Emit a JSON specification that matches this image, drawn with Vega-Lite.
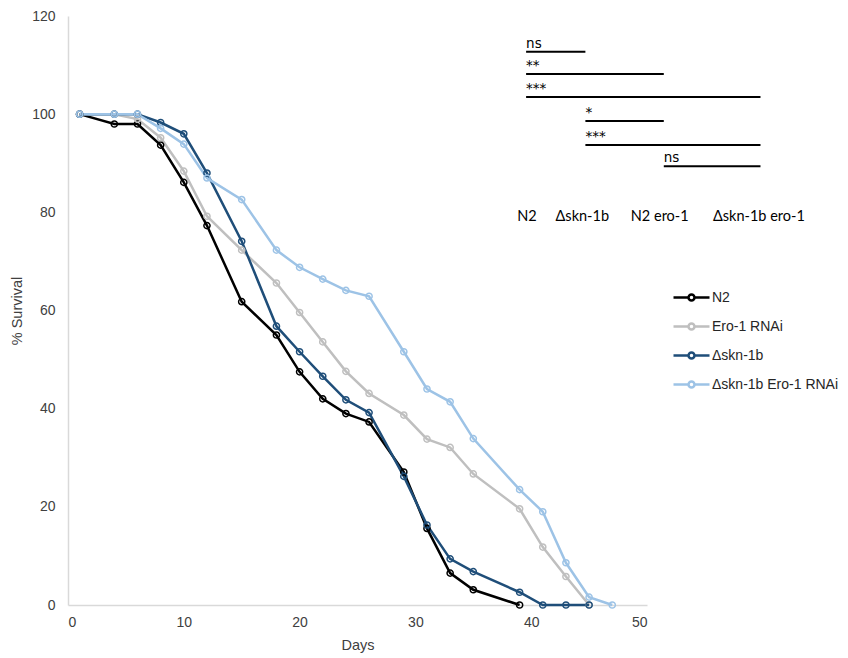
{
  "$schema": "https://vega.github.io/schema/vega-lite/v6.json",
  "width": 579,
  "height": 589,
  "autosize": {"type": "none"},
  "padding": {"left": 68, "top": 16, "right": 201, "bottom": 53},
  "config": {
    "view": {"stroke": null},
    "font": "Liberation Sans",
    "axis": {
      "grid": false,
      "ticks": false,
      "domainColor": "#d9d9d9",
      "domainWidth": 1.5,
      "labelFont": "Liberation Sans",
      "labelFontSize": 14,
      "labelColor": "#404040",
      "titleFont": "Liberation Sans",
      "titleFontSize": 14.5,
      "titleFontWeight": "normal",
      "titleColor": "#404040"
    }
  },
  "datasets": {
    "surv": [
      {"day": 1, "survival": 100, "strain": "N2"},
      {"day": 4, "survival": 98, "strain": "N2"},
      {"day": 6, "survival": 98, "strain": "N2"},
      {"day": 8, "survival": 93.7, "strain": "N2"},
      {"day": 10, "survival": 86.1, "strain": "N2"},
      {"day": 12, "survival": 77.3, "strain": "N2"},
      {"day": 15, "survival": 61.8, "strain": "N2"},
      {"day": 18, "survival": 55.0, "strain": "N2"},
      {"day": 20, "survival": 47.5, "strain": "N2"},
      {"day": 22, "survival": 42.0, "strain": "N2"},
      {"day": 24, "survival": 39.0, "strain": "N2"},
      {"day": 26, "survival": 37.3, "strain": "N2"},
      {"day": 29, "survival": 27.1, "strain": "N2"},
      {"day": 31, "survival": 15.6, "strain": "N2"},
      {"day": 33, "survival": 6.5, "strain": "N2"},
      {"day": 35, "survival": 3.1, "strain": "N2"},
      {"day": 39, "survival": 0, "strain": "N2"},
      {"day": 1, "survival": 100, "strain": "Ero-1 RNAi"},
      {"day": 4, "survival": 100, "strain": "Ero-1 RNAi"},
      {"day": 6, "survival": 99, "strain": "Ero-1 RNAi"},
      {"day": 8, "survival": 95.2, "strain": "Ero-1 RNAi"},
      {"day": 10, "survival": 88.4, "strain": "Ero-1 RNAi"},
      {"day": 12, "survival": 79.2, "strain": "Ero-1 RNAi"},
      {"day": 15, "survival": 72.3, "strain": "Ero-1 RNAi"},
      {"day": 18, "survival": 65.6, "strain": "Ero-1 RNAi"},
      {"day": 20, "survival": 59.6, "strain": "Ero-1 RNAi"},
      {"day": 22, "survival": 53.6, "strain": "Ero-1 RNAi"},
      {"day": 24, "survival": 47.6, "strain": "Ero-1 RNAi"},
      {"day": 26, "survival": 43.1, "strain": "Ero-1 RNAi"},
      {"day": 29, "survival": 38.7, "strain": "Ero-1 RNAi"},
      {"day": 31, "survival": 33.8, "strain": "Ero-1 RNAi"},
      {"day": 33, "survival": 32.1, "strain": "Ero-1 RNAi"},
      {"day": 35, "survival": 26.7, "strain": "Ero-1 RNAi"},
      {"day": 39, "survival": 19.6, "strain": "Ero-1 RNAi"},
      {"day": 41, "survival": 11.8, "strain": "Ero-1 RNAi"},
      {"day": 43, "survival": 5.8, "strain": "Ero-1 RNAi"},
      {"day": 45, "survival": 0, "strain": "Ero-1 RNAi"},
      {"day": 1, "survival": 100, "strain": "Δskn-1b"},
      {"day": 4, "survival": 100, "strain": "Δskn-1b"},
      {"day": 6, "survival": 100, "strain": "Δskn-1b"},
      {"day": 8, "survival": 98.3, "strain": "Δskn-1b"},
      {"day": 10, "survival": 96.0, "strain": "Δskn-1b"},
      {"day": 12, "survival": 88.0, "strain": "Δskn-1b"},
      {"day": 15, "survival": 74.1, "strain": "Δskn-1b"},
      {"day": 18, "survival": 56.8, "strain": "Δskn-1b"},
      {"day": 20, "survival": 51.6, "strain": "Δskn-1b"},
      {"day": 22, "survival": 46.6, "strain": "Δskn-1b"},
      {"day": 24, "survival": 41.8, "strain": "Δskn-1b"},
      {"day": 26, "survival": 39.2, "strain": "Δskn-1b"},
      {"day": 29, "survival": 26.2, "strain": "Δskn-1b"},
      {"day": 31, "survival": 16.3, "strain": "Δskn-1b"},
      {"day": 33, "survival": 9.4, "strain": "Δskn-1b"},
      {"day": 35, "survival": 6.8, "strain": "Δskn-1b"},
      {"day": 39, "survival": 2.6, "strain": "Δskn-1b"},
      {"day": 41, "survival": 0, "strain": "Δskn-1b"},
      {"day": 43, "survival": 0, "strain": "Δskn-1b"},
      {"day": 45, "survival": 0, "strain": "Δskn-1b"},
      {"day": 1, "survival": 100, "strain": "Δskn-1b Ero-1 RNAi"},
      {"day": 4, "survival": 100, "strain": "Δskn-1b Ero-1 RNAi"},
      {"day": 6, "survival": 100, "strain": "Δskn-1b Ero-1 RNAi"},
      {"day": 8, "survival": 97.1, "strain": "Δskn-1b Ero-1 RNAi"},
      {"day": 10, "survival": 93.9, "strain": "Δskn-1b Ero-1 RNAi"},
      {"day": 12, "survival": 87.0, "strain": "Δskn-1b Ero-1 RNAi"},
      {"day": 15, "survival": 82.6, "strain": "Δskn-1b Ero-1 RNAi"},
      {"day": 18, "survival": 72.3, "strain": "Δskn-1b Ero-1 RNAi"},
      {"day": 20, "survival": 68.8, "strain": "Δskn-1b Ero-1 RNAi"},
      {"day": 22, "survival": 66.4, "strain": "Δskn-1b Ero-1 RNAi"},
      {"day": 24, "survival": 64.1, "strain": "Δskn-1b Ero-1 RNAi"},
      {"day": 26, "survival": 62.9, "strain": "Δskn-1b Ero-1 RNAi"},
      {"day": 29, "survival": 51.6, "strain": "Δskn-1b Ero-1 RNAi"},
      {"day": 31, "survival": 44.0, "strain": "Δskn-1b Ero-1 RNAi"},
      {"day": 33, "survival": 41.4, "strain": "Δskn-1b Ero-1 RNAi"},
      {"day": 35, "survival": 33.9, "strain": "Δskn-1b Ero-1 RNAi"},
      {"day": 39, "survival": 23.5, "strain": "Δskn-1b Ero-1 RNAi"},
      {"day": 41, "survival": 19.0, "strain": "Δskn-1b Ero-1 RNAi"},
      {"day": 43, "survival": 8.6, "strain": "Δskn-1b Ero-1 RNAi"},
      {"day": 45, "survival": 1.6, "strain": "Δskn-1b Ero-1 RNAi"},
      {"day": 47, "survival": 0, "strain": "Δskn-1b Ero-1 RNAi"}
    ],
    "sig": [
      {"x1": 39.56, "x2": 44.68, "y": 112.7, "label": "ns"},
      {"x1": 39.56, "x2": 51.45, "y": 108.2, "label": "**"},
      {"x1": 39.56, "x2": 59.8, "y": 103.5, "label": "***"},
      {"x1": 44.68, "x2": 51.45, "y": 98.6, "label": "*"},
      {"x1": 44.68, "x2": 59.8, "y": 93.7, "label": "***"},
      {"x1": 51.45, "x2": 59.8, "y": 89.4, "label": "ns"}
    ],
    "groups": [
      {"x": 38.8, "y": 79.0, "label": "N2"},
      {"x": 42.1, "y": 79.0, "label": "Δskn-1b"},
      {"x": 48.6, "y": 79.0, "label": "N2 ero-1"},
      {"x": 55.7, "y": 79.0, "label": "Δskn-1b ero-1"}
    ]
  },
  "layer": [
    {
      "data": {"name": "surv"},
      "mark": {
        "type": "line",
        "strokeWidth": 2.5,
        "clip": false,
        "point": {"filled": false, "shape": "circle", "size": 38, "strokeWidth": 1.5}
      },
      "encoding": {
        "x": {
          "field": "day", "type": "quantitative",
          "scale": {"domain": [0, 50], "nice": false},
          "axis": {"title": "Days", "values": [0, 10, 20, 30, 40, 50], "labelPadding": 10, "titlePadding": 9}
        },
        "y": {
          "field": "survival", "type": "quantitative",
          "scale": {"domain": [0, 120], "nice": false},
          "axis": {"title": "% Survival", "values": [0, 20, 40, 60, 80, 100, 120], "labelPadding": 13, "titlePadding": 7}
        },
        "color": {
          "field": "strain", "type": "nominal",
          "scale": {
            "domain": ["N2", "Ero-1 RNAi", "Δskn-1b", "Δskn-1b Ero-1 RNAi"],
            "range": ["#000000", "#bfbfbf", "#1f4e79", "#9dc3e6"]
          },
          "legend": {
            "title": null,
            "orient": "none",
            "legendX": 616,
            "legendY": 274,
            "padding": 0,
            "symbolType": "M-3,0H-0.5A0.5,0.5 0 1,1 0.5,0A0.5,0.5 0 1,1 -0.5,0M0.5,0H3",
            "symbolSize": 144,
            "symbolStrokeWidth": 2.5,
            "symbolFillColor": "transparent",
            "labelOffset": 13,
            "labelFont": "Liberation Sans",
            "labelFontSize": 14,
            "labelFontWeight": "normal",
            "labelColor": "#262626",
            "rowPadding": 12
          }
        }
      }
    },
    {
      "data": {"name": "sig"},
      "mark": {"type": "rule", "color": "#000000", "strokeWidth": 2, "clip": false},
      "encoding": {
        "x": {"field": "x1", "type": "quantitative"},
        "x2": {"field": "x2"},
        "y": {"field": "y", "type": "quantitative"}
      }
    },
    {
      "data": {"name": "sig"},
      "mark": {"type": "text", "align": "left", "baseline": "alphabetic", "dy": -4, "font": "DejaVu Sans", "fontSize": 13.5, "color": "#000000", "clip": false},
      "encoding": {
        "x": {"field": "x1", "type": "quantitative"},
        "y": {"field": "y", "type": "quantitative"},
        "text": {"field": "label"}
      }
    },
    {
      "data": {"name": "groups"},
      "mark": {"type": "text", "align": "left", "baseline": "middle", "font": "Lato", "fontSize": 14.5, "color": "#000000", "clip": false},
      "encoding": {
        "x": {"field": "x", "type": "quantitative"},
        "y": {"field": "y", "type": "quantitative"},
        "text": {"field": "label"}
      }
    }
  ]
}
